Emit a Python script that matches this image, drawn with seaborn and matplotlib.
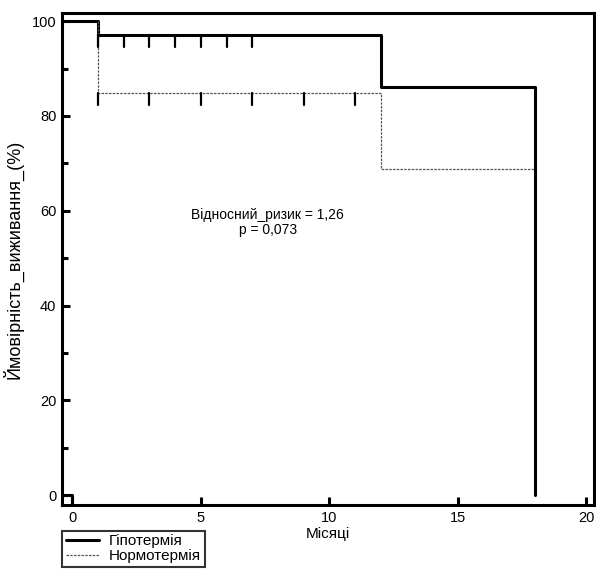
import matplotlib
matplotlib.use('Agg')
import matplotlib.pyplot as plt
import seaborn as sns
import pandas as pd

sns.set_style('white')
plt.rcParams['font.family'] = ['Liberation Sans', 'DejaVu Sans']
plt.rcParams['text.color'] = 'black'
plt.rcParams['axes.labelcolor'] = 'black'
plt.rcParams['xtick.color'] = 'black'
plt.rcParams['ytick.color'] = 'black'

# Криві виживання (ступінчасті)
hypo_t = [-0.4, 1, 1, 12, 12, 18, 18]
hypo_s = [100, 100, 97.1, 97.1, 86.2, 86.2, 0]
norm_t = [1, 1, 12, 12, 18]
norm_s = [100, 84.8, 84.8, 68.8, 68.8]

# Цензуровані спостереження
hypo_cens_t = [1, 2, 3, 4, 5, 6, 7]
hypo_cens_s = 97.1
norm_cens_t = [1, 3, 5, 7, 9, 11]
norm_cens_s = 84.8

df_hypo = pd.DataFrame({'t': hypo_t, 's': hypo_s, 'i': range(len(hypo_t))})
df_norm = pd.DataFrame({'t': norm_t, 's': norm_s, 'i': range(len(norm_t))})

fig = plt.figure(figsize=(5.96, 5.70), dpi=100)
ax = fig.add_axes([0.104, 0.114, 0.893, 0.863])

sns.lineplot(data=df_hypo, x='t', y='s', sort=False, estimator=None, ax=ax,
             color='black', linewidth=2.2, label='Гіпотермія')
sns.lineplot(data=df_norm, x='t', y='s', sort=False, estimator=None, ax=ax,
             color='#555555', linewidth=0.9, linestyle=(0, (2, 1)), label='Нормотермія')

# маленький відрізок біля початку координат
ax.plot([-0.4, 0, 0], [0, 0, -2.1], color='black', linewidth=2.2)

for t in hypo_cens_t:
    ax.plot([t, t], [hypo_cens_s, hypo_cens_s - 2.5], color='black', linewidth=1.6)
for t in norm_cens_t:
    ax.plot([t, t], [norm_cens_s, norm_cens_s - 2.5], color='black', linewidth=1.6)

ax.text(7.6, 57.5, 'Відносний_ризик = 1,26\np = 0,073', ha='center', va='center',
        fontsize=10, linespacing=1.05)

ax.set_xlim(-0.4, 20.3)
ax.set_ylim(-2.1, 101.7)
ax.set_xticks([0, 5, 10, 15, 20])
ax.set_yticks([0, 20, 40, 60, 80, 100])
ax.set_yticks([10, 30, 50, 70, 90], minor=True)
ax.tick_params(axis='both', which='major', direction='in', length=6, width=2.2,
               labelsize=10.5, pad=4)
ax.tick_params(axis='y', which='minor', direction='in', length=4, width=2.2, left=True)
ax.tick_params(axis='x', bottom=True)
ax.tick_params(axis='y', left=True)
for sp in ax.spines.values():
    sp.set_linewidth(2.2)
    sp.set_color('black')

ax.set_xlabel('Місяці', fontsize=11, labelpad=2)
ax.set_ylabel('Ймовірність_виживання_(%)', fontsize=13, labelpad=6)

leg = ax.legend(loc='upper left', bbox_to_anchor=(0.104, 0.069), bbox_transform=fig.transFigure,
                frameon=True, fancybox=False, fontsize=11, handlelength=2.2,
                borderpad=0.25, labelspacing=0.05, handletextpad=0.6, borderaxespad=0)
leg.get_frame().set_edgecolor('black')
leg.get_frame().set_linewidth(1.5)

fig.savefig('out.png', dpi=100)
